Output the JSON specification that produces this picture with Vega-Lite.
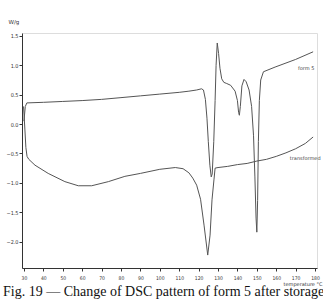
{
  "$schema": "https://vega.github.io/schema/vega-lite/v6.json",
  "width": 295,
  "height": 235,
  "autosize": {"type": "none"},
  "padding": {"left": 22, "top": 33, "right": 6, "bottom": 37},
  "background": "white",
  "title": {
    "text": "Fig. 19 — Change of DSC pattern of form 5 after storage",
    "orient": "bottom",
    "anchor": "start",
    "frame": "group",
    "font": "Liberation Serif",
    "fontSize": 14,
    "fontWeight": "normal",
    "color": "#111",
    "dx": -19,
    "offset": -1
  },
  "datasets": {
    "curves": [
      {"s": "form 5", "t": 30.0, "v": 0.05},
      {"s": "form 5", "t": 30.7, "v": 0.30},
      {"s": "form 5", "t": 31.5, "v": 0.36},
      {"s": "form 5", "t": 40, "v": 0.37},
      {"s": "form 5", "t": 50, "v": 0.385},
      {"s": "form 5", "t": 60, "v": 0.40},
      {"s": "form 5", "t": 70, "v": 0.42},
      {"s": "form 5", "t": 80, "v": 0.45},
      {"s": "form 5", "t": 90, "v": 0.48},
      {"s": "form 5", "t": 100, "v": 0.51},
      {"s": "form 5", "t": 110, "v": 0.54},
      {"s": "form 5", "t": 115, "v": 0.56},
      {"s": "form 5", "t": 119, "v": 0.58},
      {"s": "form 5", "t": 121.5, "v": 0.60},
      {"s": "form 5", "t": 122.5, "v": 0.58},
      {"s": "form 5", "t": 123.5, "v": 0.42},
      {"s": "form 5", "t": 124.3, "v": 0.1},
      {"s": "form 5", "t": 125.0, "v": -0.3},
      {"s": "form 5", "t": 125.8, "v": -0.7},
      {"s": "form 5", "t": 126.5, "v": -0.9},
      {"s": "form 5", "t": 127.0, "v": -0.85},
      {"s": "form 5", "t": 127.8, "v": -0.3},
      {"s": "form 5", "t": 128.5, "v": 0.4},
      {"s": "form 5", "t": 129.0, "v": 1.0},
      {"s": "form 5", "t": 129.6, "v": 1.38},
      {"s": "form 5", "t": 130.3, "v": 1.2},
      {"s": "form 5", "t": 131.0, "v": 0.95},
      {"s": "form 5", "t": 131.9, "v": 0.77},
      {"s": "form 5", "t": 133.0, "v": 0.71},
      {"s": "form 5", "t": 134.5, "v": 0.69},
      {"s": "form 5", "t": 136.5, "v": 0.66},
      {"s": "form 5", "t": 138.8, "v": 0.56},
      {"s": "form 5", "t": 140.0, "v": 0.4},
      {"s": "form 5", "t": 140.6, "v": 0.2},
      {"s": "form 5", "t": 141.0, "v": 0.15},
      {"s": "form 5", "t": 141.5, "v": 0.3},
      {"s": "form 5", "t": 142.3, "v": 0.65},
      {"s": "form 5", "t": 143.4, "v": 0.76},
      {"s": "form 5", "t": 144.5, "v": 0.72},
      {"s": "form 5", "t": 146.0, "v": 0.58},
      {"s": "form 5", "t": 147.3, "v": 0.3},
      {"s": "form 5", "t": 148.3, "v": -0.2},
      {"s": "form 5", "t": 149.0, "v": -0.9},
      {"s": "form 5", "t": 149.6, "v": -1.6},
      {"s": "form 5", "t": 150.0, "v": -1.84},
      {"s": "form 5", "t": 150.4, "v": -1.3},
      {"s": "form 5", "t": 150.8, "v": -0.3},
      {"s": "form 5", "t": 151.3, "v": 0.4},
      {"s": "form 5", "t": 152.0, "v": 0.75},
      {"s": "form 5", "t": 153.4, "v": 0.89},
      {"s": "form 5", "t": 159.4, "v": 0.97},
      {"s": "form 5", "t": 170, "v": 1.1},
      {"s": "form 5", "t": 179, "v": 1.23},
      {"s": "transformed", "t": 29.8, "v": 0.3},
      {"s": "transformed", "t": 30.5, "v": -0.1},
      {"s": "transformed", "t": 31.0, "v": -0.4},
      {"s": "transformed", "t": 31.6, "v": -0.55},
      {"s": "transformed", "t": 32.5, "v": -0.6},
      {"s": "transformed", "t": 35.7, "v": -0.70},
      {"s": "transformed", "t": 42.5, "v": -0.84},
      {"s": "transformed", "t": 51.1, "v": -0.98},
      {"s": "transformed", "t": 58.0, "v": -1.05},
      {"s": "transformed", "t": 64.9, "v": -1.05},
      {"s": "transformed", "t": 73.5, "v": -0.98},
      {"s": "transformed", "t": 82.0, "v": -0.89},
      {"s": "transformed", "t": 90, "v": -0.84},
      {"s": "transformed", "t": 100, "v": -0.77},
      {"s": "transformed", "t": 108, "v": -0.74},
      {"s": "transformed", "t": 112, "v": -0.76},
      {"s": "transformed", "t": 115, "v": -0.83},
      {"s": "transformed", "t": 117, "v": -0.92},
      {"s": "transformed", "t": 119, "v": -1.04},
      {"s": "transformed", "t": 121, "v": -1.28},
      {"s": "transformed", "t": 122.8, "v": -1.72},
      {"s": "transformed", "t": 124.7, "v": -2.23},
      {"s": "transformed", "t": 125.9, "v": -1.89},
      {"s": "transformed", "t": 126.9, "v": -1.29},
      {"s": "transformed", "t": 127.9, "v": -0.95},
      {"s": "transformed", "t": 128.5, "v": -0.75},
      {"s": "transformed", "t": 130, "v": -0.74},
      {"s": "transformed", "t": 135, "v": -0.72},
      {"s": "transformed", "t": 140, "v": -0.69},
      {"s": "transformed", "t": 145, "v": -0.67},
      {"s": "transformed", "t": 150, "v": -0.63},
      {"s": "transformed", "t": 155, "v": -0.6},
      {"s": "transformed", "t": 160, "v": -0.55},
      {"s": "transformed", "t": 165, "v": -0.49},
      {"s": "transformed", "t": 170, "v": -0.42},
      {"s": "transformed", "t": 175, "v": -0.33},
      {"s": "transformed", "t": 179, "v": -0.22}
    ],
    "labels": [
      {"label": "form 5", "t": 171.2, "v": 0.95},
      {"label": "transformed", "t": 167.0, "v": -0.58}
    ]
  },
  "encoding": {
    "x": {
      "field": "t", "type": "quantitative",
      "scale": {"domain": [29, 181], "nice": false, "zero": false},
      "axis": {
        "values": [30, 40, 50, 60, 70, 80, 90, 100, 110, 120, 130, 140, 150, 160, 170, 180],
        "grid": false,
        "labelOverlap": false,
        "labelFlush": false,
        "labelBound": false,
        "domainColor": "#333",
        "tickColor": "#333",
        "tickSize": 3,
        "labelFontSize": 5,
        "labelColor": "#333",
        "labelFont": "DejaVu Sans Condensed",
        "labelPadding": 4,
        "title": "temperature        °C",
        "titleFontSize": 5,
        "titleFontWeight": "normal",
        "titleFont": "DejaVu Sans",
        "titleColor": "#333",
        "titleAnchor": "end",
        "titleAlign": "right",
        "titleX": 300,
        "titleY": 13
      }
    },
    "y": {
      "field": "v", "type": "quantitative",
      "scale": {"domain": [-2.45, 1.55], "nice": false, "zero": false},
      "axis": {
        "values": [-2.0, -1.5, -1.0, -0.5, 0.0, 0.5, 1.0, 1.5],
        "format": ".1f",
        "grid": false,
        "labelOverlap": false,
        "labelFlush": false,
        "labelBound": false,
        "domainColor": "#333",
        "tickColor": "#333",
        "tickSize": 3,
        "labelFontSize": 5.5,
        "labelColor": "#333",
        "labelFont": "DejaVu Sans Condensed",
        "labelPadding": 1,
        "title": "W/g",
        "titleAngle": 0,
        "titleFontSize": 5.5,
        "titleFontWeight": "normal",
        "titleFont": "DejaVu Sans",
        "titleColor": "#333",
        "titleAlign": "left",
        "titleX": -14,
        "titleY": -9
      }
    }
  },
  "layer": [
    {
      "data": {"name": "curves"},
      "mark": {"type": "line", "color": "#555555", "strokeWidth": 1, "clip": true},
      "encoding": {
        "detail": {"field": "s"}
      }
    },
    {
      "data": {"name": "labels"},
      "mark": {"type": "text", "align": "left", "baseline": "middle", "fontSize": 5, "color": "#444", "font": "DejaVu Sans"},
      "encoding": {
        "text": {"field": "label"}
      }
    }
  ]
}
